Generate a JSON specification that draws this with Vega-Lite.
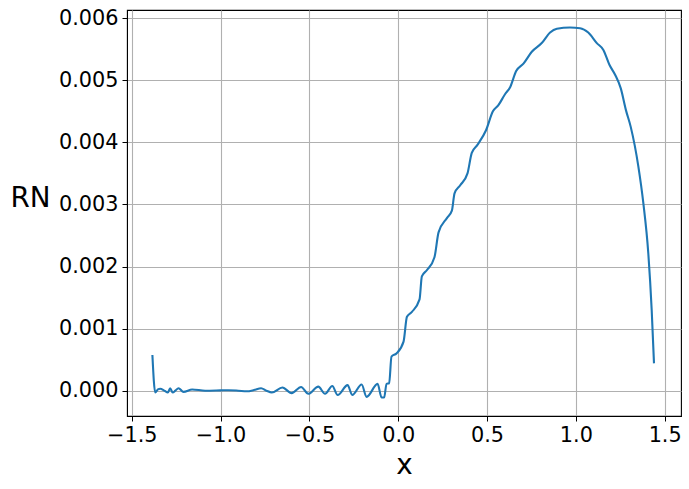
{
  "$schema": "https://vega.github.io/schema/vega-lite/v6.json",
  "autosize": "none",
  "width": 554,
  "height": 406,
  "padding": {"left": 127, "top": 10, "right": 8, "bottom": 73},
  "background": "white",
  "config": {
    "view": {"stroke": "black", "strokeWidth": 1.1},
    "font": "DejaVu Sans"
  },
  "data": {
    "values": [
      {"x": -1.384, "y": 0.000575},
      {"x": -1.368, "y": -0.00003},
      {"x": -1.353, "y": 0.00002},
      {"x": -1.34, "y": 0.00003},
      {"x": -1.317, "y": 0.0},
      {"x": -1.297, "y": -0.00003},
      {"x": -1.284, "y": 0.00004},
      {"x": -1.27, "y": -0.00003},
      {"x": -1.255, "y": 0.0},
      {"x": -1.237, "y": 0.00004},
      {"x": -1.209, "y": -0.00002},
      {"x": -1.16, "y": 0.00002},
      {"x": -1.087, "y": 0.0},
      {"x": -1.0, "y": 0.000005},
      {"x": -0.956, "y": 0.000008},
      {"x": -0.9, "y": 0.0},
      {"x": -0.853, "y": -0.00001},
      {"x": -0.812, "y": 0.00001},
      {"x": -0.772, "y": 0.00004},
      {"x": -0.742, "y": 0.0},
      {"x": -0.712, "y": -0.00003},
      {"x": -0.652, "y": 0.00005},
      {"x": -0.6, "y": -0.00004},
      {"x": -0.547, "y": 0.00006},
      {"x": -0.506, "y": -0.00005},
      {"x": -0.45, "y": 0.000065},
      {"x": -0.412, "y": -0.00005},
      {"x": -0.371, "y": 0.000075},
      {"x": -0.341, "y": -0.00007},
      {"x": -0.285, "y": 0.00009},
      {"x": -0.259, "y": -0.00007},
      {"x": -0.206, "y": 0.0001},
      {"x": -0.178, "y": -0.0001},
      {"x": -0.116, "y": 0.00011},
      {"x": -0.094, "y": -0.00011},
      {"x": -0.079, "y": -0.00011},
      {"x": -0.066, "y": 0.00011},
      {"x": -0.051, "y": 0.00012},
      {"x": -0.038, "y": 0.00055},
      {"x": -0.01, "y": 0.0006},
      {"x": 0.03, "y": 0.00079},
      {"x": 0.049, "y": 0.00119},
      {"x": 0.077, "y": 0.00127},
      {"x": 0.12, "y": 0.00147},
      {"x": 0.133, "y": 0.00184},
      {"x": 0.161, "y": 0.00194},
      {"x": 0.204, "y": 0.00215},
      {"x": 0.227, "y": 0.00255},
      {"x": 0.274, "y": 0.00278},
      {"x": 0.302, "y": 0.0029},
      {"x": 0.317, "y": 0.00318},
      {"x": 0.349, "y": 0.00331},
      {"x": 0.39, "y": 0.0035},
      {"x": 0.414, "y": 0.00383},
      {"x": 0.446, "y": 0.00396},
      {"x": 0.495, "y": 0.0042},
      {"x": 0.533, "y": 0.0045},
      {"x": 0.564, "y": 0.0046},
      {"x": 0.602, "y": 0.00478},
      {"x": 0.63, "y": 0.00489},
      {"x": 0.664, "y": 0.00515},
      {"x": 0.705, "y": 0.00527},
      {"x": 0.752, "y": 0.00546},
      {"x": 0.808, "y": 0.0056},
      {"x": 0.855, "y": 0.00577},
      {"x": 0.893, "y": 0.00583},
      {"x": 0.967, "y": 0.00585},
      {"x": 1.024, "y": 0.00584},
      {"x": 1.07, "y": 0.00577},
      {"x": 1.118, "y": 0.0056},
      {"x": 1.155, "y": 0.00549},
      {"x": 1.189, "y": 0.00525},
      {"x": 1.221, "y": 0.00509},
      {"x": 1.253, "y": 0.00487},
      {"x": 1.282, "y": 0.00452},
      {"x": 1.309, "y": 0.00425},
      {"x": 1.352, "y": 0.00361},
      {"x": 1.38, "y": 0.00302},
      {"x": 1.408, "y": 0.00221},
      {"x": 1.427, "y": 0.0013},
      {"x": 1.44, "y": 0.00044}
    ]
  },
  "mark": {"type": "line", "color": "#1f77b4", "strokeWidth": 2.1, "interpolate": "monotone", "clip": true},
  "encoding": {
    "x": {
      "field": "x", "type": "quantitative",
      "scale": {"domain": [-1.527, 1.592], "nice": false, "zero": false},
      "axis": {
        "title": "x", "titleFontSize": 27.8, "titleFontWeight": "normal", "titleColor": "black",
        "titleFont": "DejaVu Sans", "titleY": 57, "titleBaseline": "alphabetic",
        "values": [-1.5, -1.0, -0.5, 0.0, 0.5, 1.0, 1.5], "format": ".1f",
        "labelFontSize": 20.8, "labelColor": "black", "labelFont": "DejaVu Sans", "labelPadding": 4,
        "tickSize": 5, "tickColor": "black", "domainColor": "black",
        "grid": true, "gridColor": "#b0b0b0", "gridWidth": 1.1, "labelFlush": false
      }
    },
    "y": {
      "field": "y", "type": "quantitative",
      "scale": {"domain": [-0.000408, 0.006133], "nice": false, "zero": false},
      "axis": {
        "title": "RN", "titleFontSize": 27.8, "titleFontWeight": "normal", "titleColor": "black",
        "titleFont": "DejaVu Sans", "titleAngle": 0, "titleX": -97, "titleY": 188,
        "titleAlign": "center", "titleBaseline": "middle",
        "values": [0, 0.001, 0.002, 0.003, 0.004, 0.005, 0.006], "format": ".3f",
        "labelFontSize": 20.8, "labelColor": "black", "labelFont": "DejaVu Sans", "labelPadding": 4,
        "tickSize": 5, "tickColor": "black", "domainColor": "black",
        "grid": true, "gridColor": "#b0b0b0", "gridWidth": 1.1
      }
    }
  }
}
